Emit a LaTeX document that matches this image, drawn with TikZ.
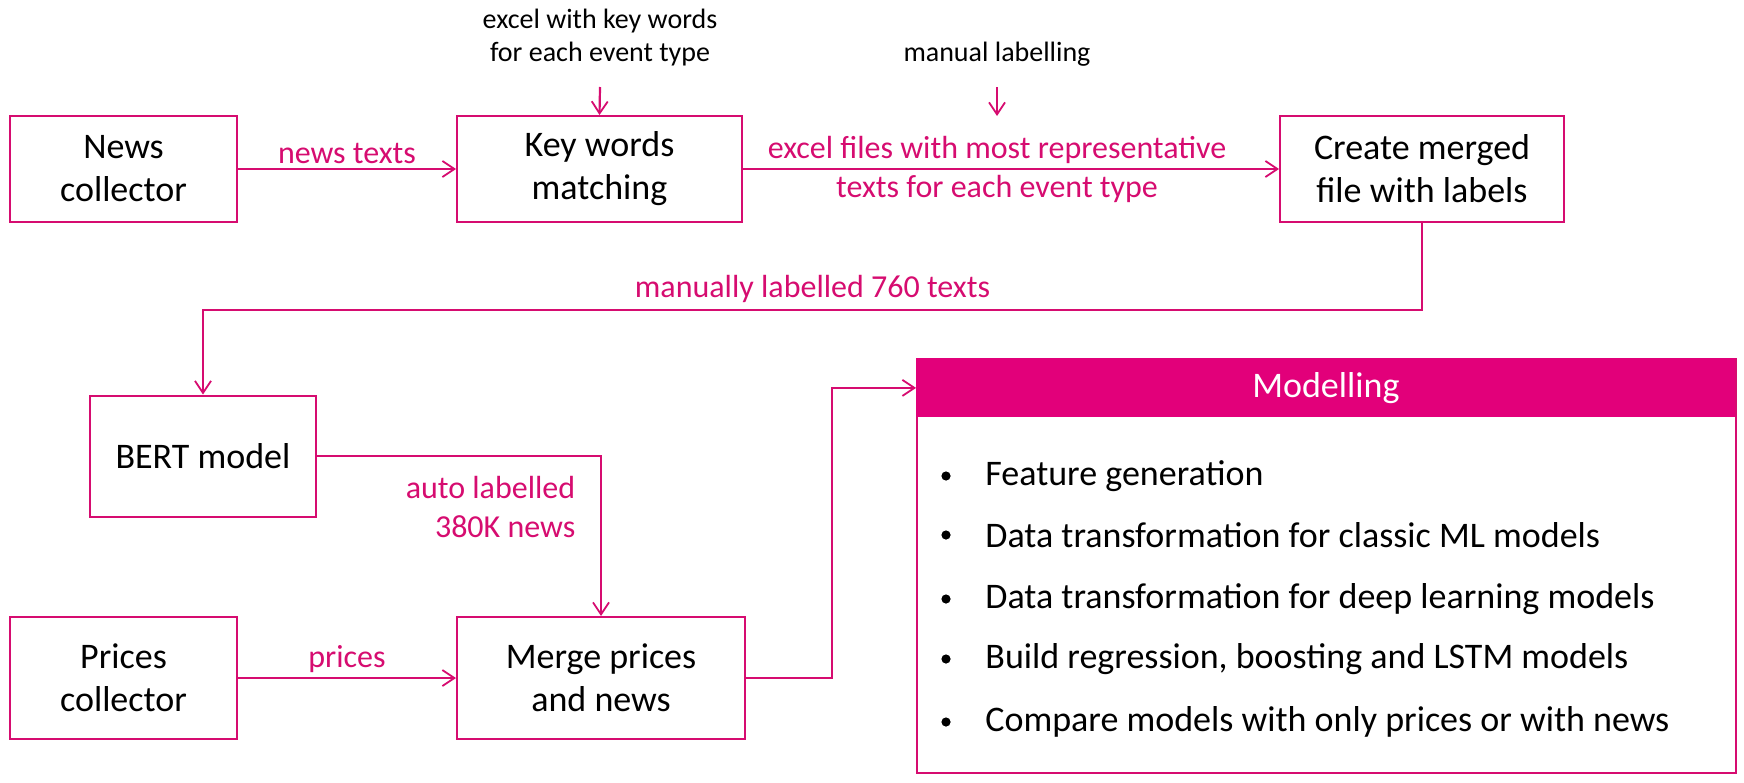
\documentclass[tikz,border=0pt]{standalone}
\usepackage{fontspec}
\setmainfont{Carlito}
\usetikzlibrary{arrows.meta}
\definecolor{mag}{RGB}{226,0,122}
\definecolor{pk}{RGB}{214,12,112}
\tikzset{
  box/.style={draw=pk, line width=1pt, align=center, font=\fontsize{18}{21.5}\selectfont, inner sep=0pt},
  arr/.style={draw=pk, line width=1.1pt, -{Straight Barb[length=6pt,width=8pt,line width=0.9pt]}},
  lbl/.style={text=pk, font=\fontsize{16}{19.5}\selectfont, align=center},
  ann/.style={font=\fontsize{14}{16.5}\selectfont, align=center},
  bul/.style={anchor=west, font=\fontsize{18}{20}\selectfont, inner sep=0pt},
  dot/.style={circle, fill=black, inner sep=0pt, minimum size=4.6pt},
}
\begin{document}
\begin{tikzpicture}[x=0.5pt, y=-0.5pt]
\useasboundingbox (0,0) rectangle (1744,782);
% boxes
\node[box, minimum width=113.5pt, minimum height=53pt] (news) at (123.5,169) {News\\collector};
\node[box, minimum width=142.5pt, minimum height=53pt] (kw) at (599.5,169) {Key words\\matching};
\node[box, minimum width=142pt, minimum height=53pt] (cm) at (1422,169) {Create merged\\file with labels};
\node[box, minimum width=113pt, minimum height=60.5pt] (bert) at (203,456) {BERT model};
\node[box, minimum width=113.5pt, minimum height=61pt] (prices) at (123.5,678) {Prices\\collector};
\node[box, minimum width=144pt, minimum height=61pt] (merge) at (601,678) {Merge prices\\and news};
% modelling panel
\node[draw=pk, line width=0.8pt, minimum width=409.5pt, minimum height=207pt, inner sep=0pt, anchor=north west] (modb) at (916,358) {};
\node[fill=mag, minimum width=409.5pt, minimum height=29.5pt, inner sep=0pt, anchor=north west, text=white, font=\fontsize{18}{20}\selectfont] (modh) at (916,358) {Modelling};
\node[bul] (b1) at (985,476) {Feature generation};
\node[bul] (b2) at (985,535) {Data transformation for classic ML models};
\node[bul] (b3) at (985,599) {Data transformation for deep learning models};
\node[bul] (b4) at (985,659) {Build regression, boosting and LSTM models};
\node[bul] (b5) at (985,722) {Compare models with only prices or with news};
\foreach \i in {1,...,5} {\node[dot] (d\i) at (946,0 |- b\i.west) {};}
% annotations
\node[ann] (ann1) at (600,38) {excel with key words\\for each event type};
\node[ann] (ann2) at (997,54) {manual labelling};
\coordinate (a1) at (600,87);
\coordinate (a2) at (997,87);
\coordinate (a2e) at (997,116);
\draw[arr] (a1) -- (kw.north);
\draw[arr] (a2) -- (a2e);
% connectors
\draw[arr] (news) -- node[lbl, above, yshift=-1pt] {news texts} (kw);
\draw[arr] (kw) -- node[lbl, xshift=-7pt] {excel files with most representative\\texts for each event type} (cm);
\draw[arr] (cm.south) -- ++(0,87) -| node[lbl, pos=0.25, above] {manually labelled 760 texts} (bert.north);
\draw[arr] (bert.east) -| node[lbl, pos=0.66, left, align=right, xshift=-9pt] {auto labelled\\380K news} (merge.north);
\draw[arr] (prices) -- node[lbl, above, yshift=-1pt] {prices} (merge);
\draw[arr] (merge.east) -- ++(86,0) |- (modh.west);
\end{tikzpicture}
\end{document}
